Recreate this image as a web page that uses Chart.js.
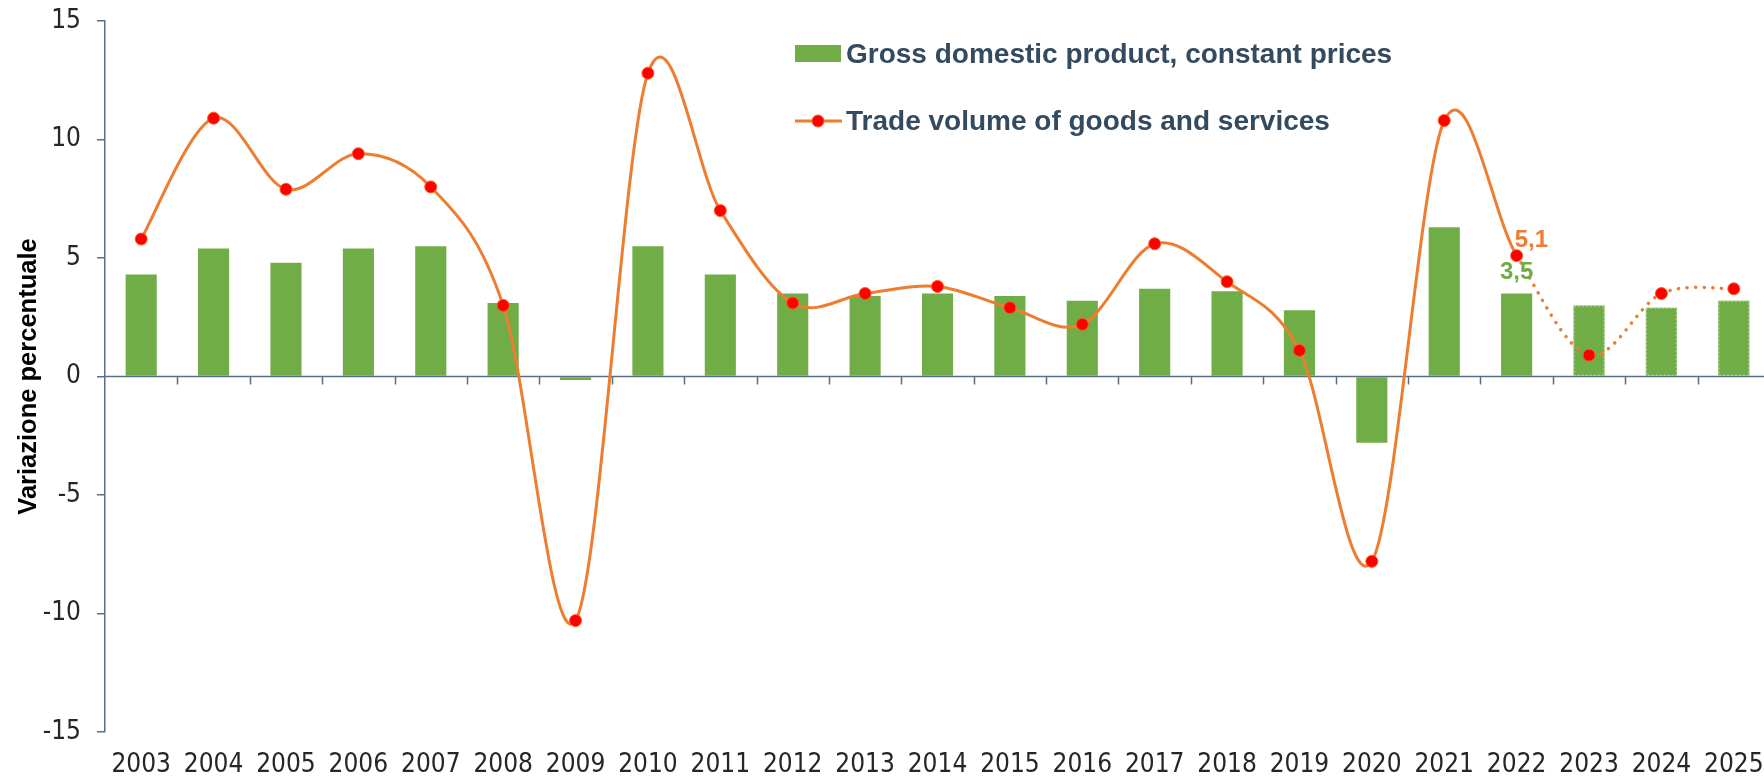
<!DOCTYPE html>
<html>
<head>
<meta charset="utf-8">
<script src="https://cdn.jsdelivr.net/npm/chart.js@4.4.1/dist/chart.umd.min.js"></script>
<style>
html,body{margin:0;padding:0;background:#fff;overflow:hidden;width:1764px;height:777px}
#wrap{width:1770px;height:777px}
</style>
</head>
<body>
<div id="wrap"><canvas id="c" width="1770" height="777"></canvas></div>
<script>
// ---- data ----
const years = ['2003','2004','2005','2006','2007','2008','2009','2010','2011','2012','2013','2014','2015','2016','2017','2018','2019','2020','2021','2022','2023','2024','2025'];
const gdpGrowth   = [4.3, 5.4, 4.8, 5.4, 5.5, 3.1, -0.15, 5.5, 4.3, 3.5, 3.4, 3.5, 3.4, 3.2, 3.7, 3.6, 2.8, -2.8, 6.3, 3.5, 3.0, 2.9, 3.2];
const tradeGrowth = [5.8, 10.9, 7.9, 9.4, 8.0, 3.0, -10.3, 12.8, 7.0, 3.1, 3.5, 3.8, 2.9, 2.2, 5.6, 4.0, 1.1, -7.8, 10.8, 5.1, 0.9, 3.5, 3.7];
const yTicks = [-15, -10, -5, 0, 5, 10, 15];
const seriesNames = ['Gross domestic product, constant prices', 'Trade volume of goods and services'];
const axisTitle = 'Variazione percentuale';
const dottedFromYear = '2022';   // trade line dotted from this year on
const outlinedFromYear = '2023'; // GDP bars with dotted outline from this year on
const labelledYear = '2022';

// ---- styles ----
const barColor = '#70ad47';
const lineColor = '#ed7d31';
const pointColor = '#ff0000';
const axisColor = '#5b6f83';
const legendTextColor = '#344a5f';
const tickFont = {family: "'Liberation Sans Narrow', 'DejaVu Sans Condensed', sans-serif", size: 26, lineHeight: 1};

const dottedIdx = years.indexOf(dottedFromYear);
const outlinedIdx = years.indexOf(outlinedFromYear);
const labelIdx = years.indexOf(labelledYear);
const fmt = v => String(v).replace('.', ',');

// Excel-like smoothing (Catmull-Rom) applied to the line's own control points
const smoothing = {
  id: 'smoothing',
  beforeDatasetDraw(chart, args) {
    if (args.index !== 0) return;
    const line = args.meta.dataset;
    line.updateControlPoints(chart.chartArea, 'x');
    line._pointsUpdated = true;
    const pts = line.points;
    for (let i = 0; i < pts.length; i++) {
      const p = pts[i], prev = pts[i - 1] || p, next = pts[i + 1] || p;
      const tx = (next.x - prev.x) / 6, ty = (next.y - prev.y) / 6;
      p.cp1x = p.x - tx; p.cp1y = p.y - ty;
      p.cp2x = p.x + tx; p.cp2y = p.y + ty;
    }
  }
};

const decor = {
  id: 'decor',
  beforeDatasetsDraw(chart) {
    const {ctx, chartArea, scales: {x, y}} = chart;
    const y0 = y.getPixelForValue(0);
    const step = x.getPixelForValue(1) - x.getPixelForValue(0);
    ctx.save();
    ctx.strokeStyle = axisColor;
    ctx.lineWidth = 1.5;
    ctx.beginPath();
    ctx.moveTo(chartArea.left, y0);
    ctx.lineTo(chartArea.right, y0);
    ctx.stroke();
    for (let i = 0; i < years.length; i++) {
      const bx = Math.round(x.getPixelForValue(i) + step / 2) + 0.5;
      ctx.beginPath();
      ctx.moveTo(bx, y0);
      ctx.lineTo(bx, y0 + 8);
      ctx.stroke();
    }
    ctx.restore();
  },
  afterDatasetDraw(chart, args) {
    if (args.index !== 1) return;
    const {ctx} = chart;
    const meta = chart.getDatasetMeta(1);
    ctx.save();
    ctx.strokeStyle = '#b9dba3';
    ctx.lineWidth = 1.2;
    ctx.setLineDash([2, 2]);
    for (let i = outlinedIdx; i < years.length; i++) {
      const el = meta.data[i];
      const l = el.x - el.width / 2, t = Math.min(el.y, el.base);
      ctx.strokeRect(l + 0.5, t + 0.5, el.width - 1, Math.abs(el.base - el.y) - 1);
    }
    ctx.restore();
  },
  afterDraw(chart) {
    const {ctx} = chart;
    ctx.save();
    // legend
    const lx = 795, ly1 = 45, ly2 = 121;
    ctx.fillStyle = barColor;
    ctx.fillRect(lx, ly1, 46, 17);
    ctx.strokeStyle = lineColor;
    ctx.lineWidth = 3;
    ctx.beginPath();
    ctx.moveTo(lx, ly2);
    ctx.lineTo(lx + 47, ly2);
    ctx.stroke();
    ctx.beginPath();
    ctx.arc(lx + 23, ly2, 6, 0, Math.PI * 2);
    ctx.fillStyle = pointColor;
    ctx.fill();
    ctx.lineWidth = 1;
    ctx.strokeStyle = '#ff5a1a';
    ctx.stroke();
    ctx.font = "bold 28px 'Liberation Sans', Arial, sans-serif";
    ctx.fillStyle = legendTextColor;
    ctx.textAlign = 'left';
    ctx.textBaseline = 'alphabetic';
    ctx.fillText(seriesNames[0], lx + 51, 63);
    ctx.fillText(seriesNames[1], lx + 51, 130);
    // data labels
    const pt = chart.getDatasetMeta(0).data[labelIdx];
    const bar = chart.getDatasetMeta(1).data[labelIdx];
    ctx.font = "bold 24px 'Liberation Sans', Arial, sans-serif";
    ctx.fillStyle = lineColor;
    ctx.textAlign = 'left';
    ctx.fillText(fmt(tradeGrowth[labelIdx]), pt.x - 2, pt.y - 9);
    ctx.fillStyle = barColor;
    ctx.textAlign = 'center';
    ctx.fillText(fmt(gdpGrowth[labelIdx]), bar.x, bar.y - 15);
    ctx.restore();
  }
};

new Chart(document.getElementById('c'), {
  type: 'bar',
  data: {
    labels: years,
    datasets: [
      {
        type: 'line',
        label: seriesNames[1],
        data: tradeGrowth,
        borderColor: lineColor,
        borderWidth: 3,
        borderCapStyle: 'round',
        tension: 0.4,
        capBezierPoints: false,
        pointRadius: 6,
        pointBackgroundColor: pointColor,
        pointBorderColor: '#ff5a1a',
        pointBorderWidth: 1,
        segment: {
          borderDash: ctx => ctx.p0DataIndex >= dottedIdx ? [0.1, 8.5] : undefined,
          borderWidth: ctx => ctx.p0DataIndex >= dottedIdx ? 3.5 : 3
        }
      },
      {
        type: 'bar',
        label: seriesNames[0],
        data: gdpGrowth,
        backgroundColor: barColor,
        barPercentage: 0.43,
        categoryPercentage: 1
      }
    ]
  },
  options: {
    responsive: false,
    animation: false,
    devicePixelRatio: 1,
    layout: {autoPadding: false, padding: {left: 0, right: 0, top: 21, bottom: 0}},
    plugins: {legend: {display: false}, tooltip: {enabled: false}},
    scales: {
      x: {
        offset: true,
        afterFit: s => { s.height = 45; s.paddingLeft = 0; s.paddingRight = 0; },
        grid: {display: false, drawTicks: false},
        border: {display: false},
        ticks: {font: tickFont, color: '#262626', padding: 20, maxRotation: 0, autoSkip: false}
      },
      y: {
        min: -15,
        max: 15,
        afterBuildTicks: s => { s.ticks = yTicks.map(v => ({value: v})); },
        afterFit: s => { s.width = 105; s.paddingTop = 0; s.paddingBottom = 0; },
        grid: {drawOnChartArea: false, drawTicks: true, tickLength: 8, color: axisColor, lineWidth: 1.5},
        border: {display: true, color: axisColor, width: 1.5},
        ticks: {font: tickFont, color: '#262626', padding: 16},
        title: {
          display: true,
          text: axisTitle,
          color: '#000',
          font: {family: "'Liberation Sans', Arial, sans-serif", weight: 'bold', size: 25.5},
          padding: {top: 14, bottom: 0}
        }
      }
    }
  },
  plugins: [smoothing, decor]
});
</script>
</body>
</html>
